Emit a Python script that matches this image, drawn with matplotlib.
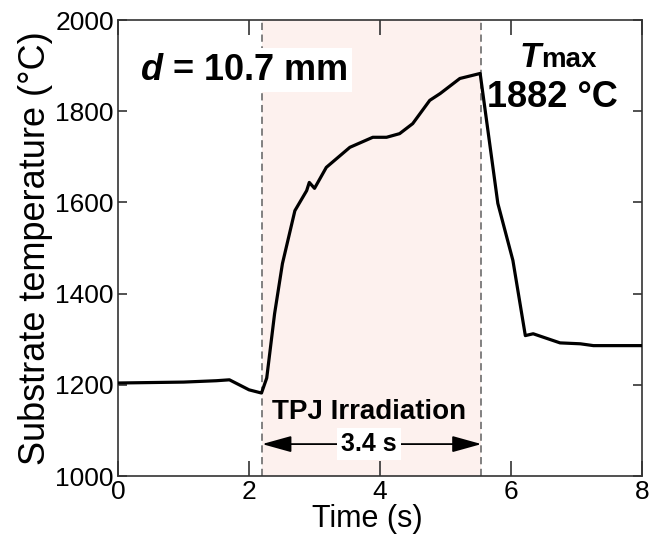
"""Substrate temperature during TPJ irradiation"""

import matplotlib
matplotlib.use("Agg")
from matplotlib import pyplot as plt

# data
time_s = [0, 0.5, 1.0, 1.5, 1.7, 2.0, 2.19, 2.27, 2.39, 2.51, 2.70, 2.88, 2.92,
          3.0, 3.18, 3.54, 3.89, 4.1, 4.3, 4.5, 4.76, 4.92, 5.22, 5.53, 5.8,
          6.03, 6.22, 6.34, 6.75, 7.06, 7.26, 8.0]
temp_c = [1204, 1205, 1206, 1209, 1211, 1189, 1182, 1215, 1356, 1466, 1582,
          1626, 1644, 1631, 1677, 1721, 1743, 1743, 1751, 1773, 1824, 1839,
          1872, 1883, 1598, 1473, 1308, 1312, 1292, 1290, 1286, 1286]
irr_start = 2.2
irr_end = 5.55
x_ticks = [0, 2, 4, 6, 8]
y_ticks = [1000, 1200, 1400, 1600, 1800, 2000]

plt.rcParams["font.family"] = ["Liberation Sans", "DejaVu Sans"]
plt.rcParams["mathtext.fontset"] = "custom"
plt.rcParams["mathtext.bfit"] = "Liberation Sans:bold:italic"

fig = plt.figure(figsize=(6.49, 5.44), dpi=100)
ax = fig.add_axes([0.182, 0.125, 0.807, 0.838])

ax.axvspan(irr_start, irr_end, color="#fdf1ee", lw=0, zorder=0)
for xv in (irr_start, irr_end):
    ax.axvline(xv, color="#777777", lw=1.3, ls=(0, (4, 2.5)), zorder=1)

ax.plot(time_s, temp_c, color="black", lw=2.3, zorder=3)

ax.set_xlim(0, 8)
ax.set_ylim(1000, 2000)
ax.set_xticks(x_ticks)
ax.set_yticks(y_ticks)
ax.tick_params(axis="both", direction="in", top=True, right=True,
               labelsize=19, width=1.2, color="#333333", pad=3)
ax.tick_params(axis="x", length=11)
ax.tick_params(axis="y", length=6.5)
for sp in ax.spines.values():
    sp.set_linewidth(1.2)
    sp.set_color("#333333")

ax.set_xlabel("Time (s)", fontsize=22, labelpad=0, x=0.475)
ax.set_ylabel("Substrate temperature (°C)", fontsize=26, labelpad=2)

ax.text(0.33, 1890, r"$\mathbfit{d}$ = 10.7 mm", fontsize=26,
        fontweight="bold", va="center", ha="left", zorder=5,
        bbox=dict(facecolor="white", edgecolor="none", pad=3))

ax.text(6.46, 1897, "T", fontsize=25, fontweight="bold", style="italic",
        ha="right", va="baseline")
ax.text(6.46, 1897, "max", fontsize=20, fontweight="bold",
        ha="left", va="baseline")
ax.text(6.64, 1831, "1882 °C", fontsize=26, fontweight="bold",
        ha="center", va="center")

ax.text(3.83, 1141, "TPJ Irradiation", fontsize=20, fontweight="bold",
        ha="center", va="center", zorder=5)
ax.annotate("", xy=(irr_start, 1070), xytext=(irr_end, 1070),
            arrowprops=dict(arrowstyle="<|-|>,head_length=1.8,head_width=0.5",
                            color="black", lw=1.3, shrinkA=0, shrinkB=0),
            zorder=4)
ax.text(3.83, 1070, "3.4 s", fontsize=18, fontweight="bold",
        ha="center", va="center", zorder=5,
        bbox=dict(facecolor="white", edgecolor="none", pad=3))

fig.savefig("out.png", dpi=100)
